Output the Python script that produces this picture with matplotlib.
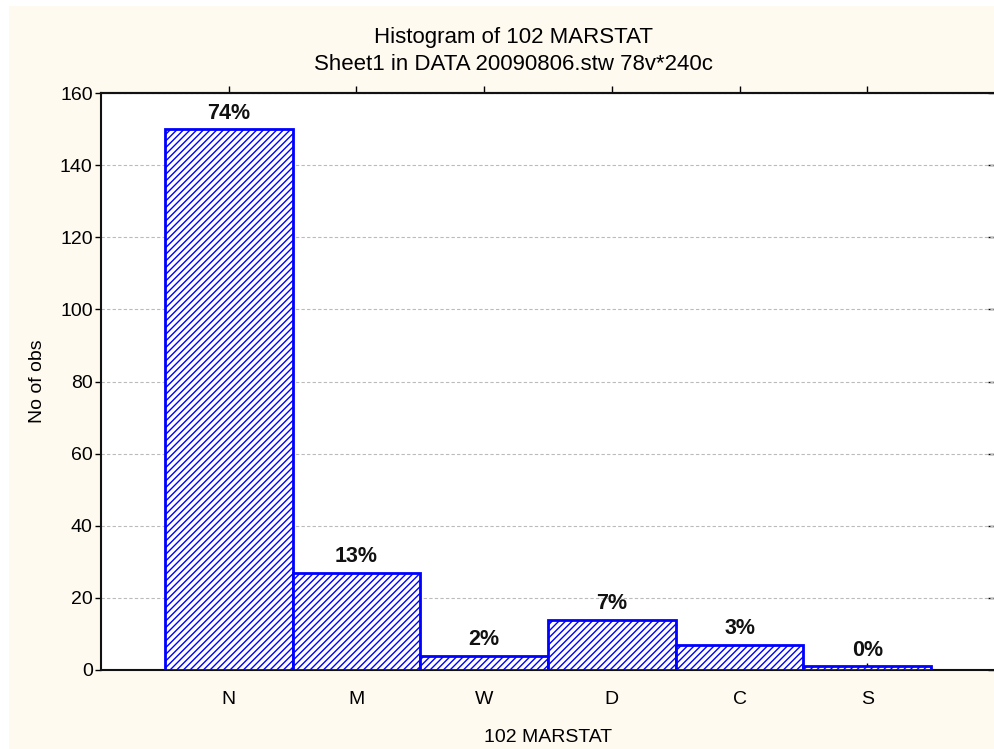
import matplotlib
matplotlib.use("Agg")
import matplotlib.pyplot as plt
from matplotlib.patches import Rectangle

plt.rcParams['font.family'] = ['Liberation Sans', 'DejaVu Sans']
plt.rcParams['hatch.linewidth'] = 1.0

categories = ["N", "M", "W", "D", "C", "S"]
counts = [150, 27, 4, 14, 7, 1]
percent_labels = ["74%", "13%", "2%", "7%", "3%", "0%"]
y_ticks = [0, 20, 40, 60, 80, 100, 120, 140, 160]

W, H = 994, 749
fig = plt.figure(figsize=(W / 100, H / 100), dpi=100, facecolor="white")
fig.patches.append(Rectangle((9 / W, 0), 1, 1 - 6 / H, transform=fig.transFigure,
                             facecolor="#FFFAF0", edgecolor="none", zorder=-5))

ax = fig.add_axes([101 / W, 79 / H, 894 / W, 577 / H])
ax.set_facecolor("white")

x = list(range(len(categories)))
bars = ax.bar(x, counts, width=1.0, facecolor="white", edgecolor="#0000FF",
              hatch="/////", linewidth=2, zorder=3)

for xi, c, lab in zip(x, counts, percent_labels):
    ax.annotate(lab, (xi, c), xytext=(0, 4), textcoords="offset points",
                ha="center", va="bottom", fontsize=15.5, fontweight="bold",
                color="#111111", zorder=4)

ax.set_xlim(-1, 6)
ax.set_ylim(0, 160)
ax.set_yticks(y_ticks)
ax.set_xticks(x)
ax.set_xticklabels(categories)

ax.yaxis.grid(True, linestyle=(0, (3, 2)), color="#BBBBBB", linewidth=0.8, zorder=1)
ax.set_axisbelow(True)

for s in ax.spines.values():
    s.set_linewidth(1.5)
    s.set_color("#111111")

# left ticks out, bottom ticks in
ax.tick_params(axis="y", left=True, right=False, direction="out",
               length=4, width=1, labelsize=14, pad=2)
ax.tick_params(axis="x", bottom=True, top=False, direction="in", length=5,
               width=1, labelsize=14, pad=15)

# top ticks out, right ticks in
secx = ax.secondary_xaxis("top")
secx.set_xticks(x)
secx.tick_params(direction="out", length=5, width=1, labeltop=False)
secx.spines["top"].set_linewidth(1.5)
secy = ax.secondary_yaxis("right")
secy.set_yticks(y_ticks)
secy.tick_params(direction="in", length=5, width=1, labelright=False)
secy.spines["right"].set_linewidth(1.5)

ax.set_ylabel("No of obs", fontsize=14, labelpad=10)
ax.set_xlabel("102 MARSTAT", fontsize=14, labelpad=15)

fig.text(514 / W, 1 - 37 / H, "Histogram of 102 MARSTAT", ha="center",
         va="center", fontsize=16)
fig.text(514 / W, 1 - 65 / H, "Sheet1 in DATA 20090806.stw 78v*240c",
         ha="center", va="center", fontsize=16)

fig.savefig("out.png", dpi=100, facecolor=fig.get_facecolor())
